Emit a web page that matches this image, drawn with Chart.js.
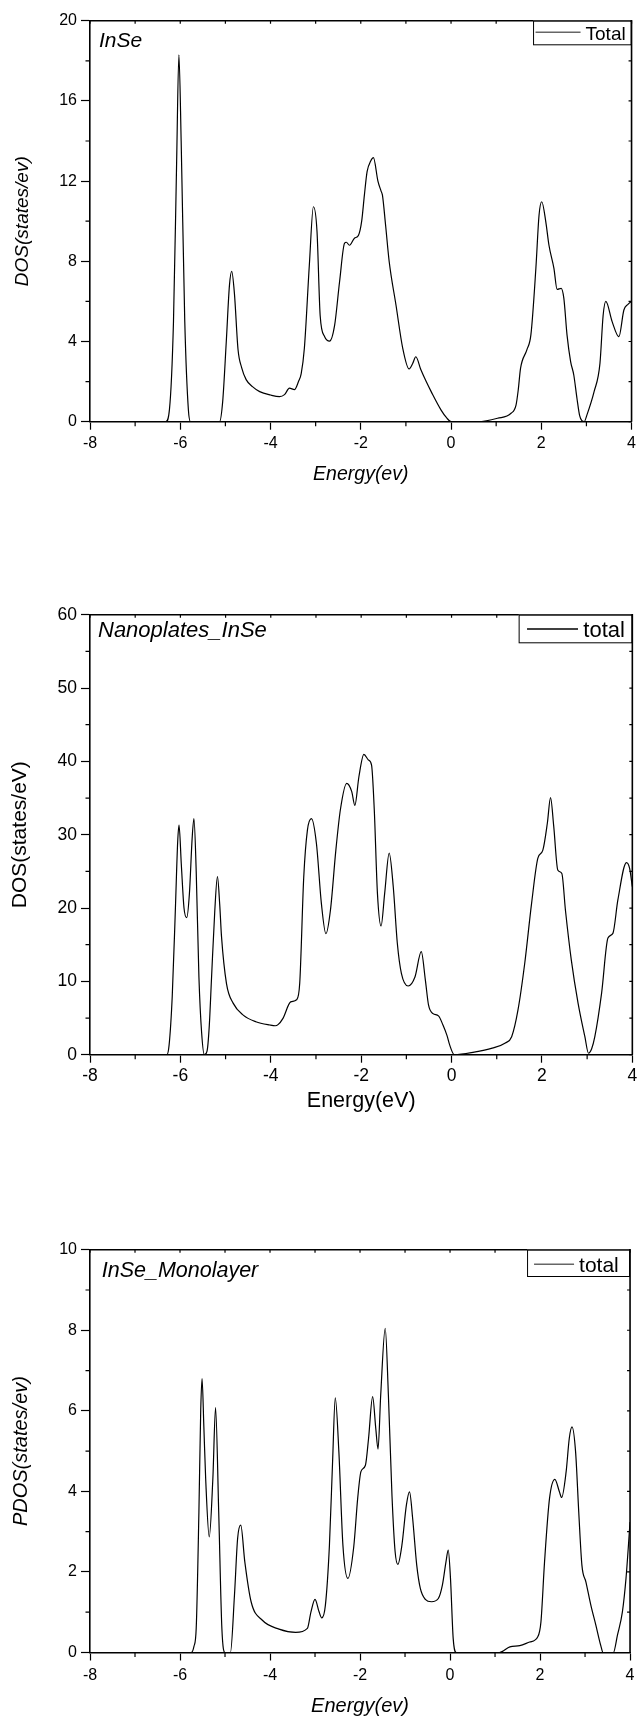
<!DOCTYPE html>
<html>
<head>
<meta charset="utf-8">
<script src="https://cdn.jsdelivr.net/npm/chart.js@4.4.0/dist/chart.umd.min.js"></script>
<style>
  body { margin: 0; background: #fff; }
  canvas { position: absolute; left: 0; }
</style>
</head>
<body>
<canvas id="dos-bulk" width="640" height="500" style="top:0px"></canvas>
<canvas id="dos-nanoplates" width="640" height="560" style="top:560px"></canvas>
<canvas id="dos-monolayer" width="640" height="540" style="top:1180px"></canvas>
<script>
// InSe bulk, total DOS
const energyBulk = [-8, -6.32, -6.24, -6.15, -6.08, -6.03, -5.98, -5.9, -5.82, -5.77,
  -5.13, -5.06, -4.98, -4.91, -4.86, -4.8, -4.72, -4.64, -4.54, -4.4, -4.24, -4.0, -3.8, -3.69,
  -3.58, -3.47, -3.38, -3.32, -3.25, -3.14, -3.05, -2.97, -2.9, -2.8, -2.69, -2.58, -2.47,
  -2.36, -2.32, -2.25, -2.14, -2.05, -1.98, -1.92, -1.86, -1.78, -1.72, -1.62, -1.55, -1.52,
  -1.45, -1.37, -1.22, -1.07, -0.93, -0.85, -0.78, -0.67, -0.55, -0.44, -0.22, -0.1, 0,
  0.59, 1.03, 1.33, 1.44, 1.49, 1.54, 1.68, 1.77, 1.88, 1.95, 2.01, 2.1, 2.17, 2.28, 2.35,
  2.44, 2.5, 2.57, 2.65, 2.72, 2.79, 2.85, 2.9, 2.95, 3.01, 3.17, 3.3, 3.37, 3.43, 3.57,
  3.72, 3.83, 3.92, 4.0]
const dosBulk = [0, 0, 0.6, 5, 13, 18.3, 14, 5, 0.6, 0,
  0, 1.0, 4.0, 6.8, 7.5, 6.4, 3.6, 2.7, 2.1, 1.75, 1.5, 1.33, 1.25, 1.35,
  1.67, 1.6, 2.0, 2.4, 3.66, 7.8, 10.72, 9.5, 5.3, 4.24, 4.02, 4.8, 6.98,
  8.9, 8.95, 8.8, 9.15, 9.3, 10.0, 11.3, 12.47, 13.0, 13.17, 12.0, 11.5, 11.3,
  9.8, 7.98, 5.82, 3.66, 2.63, 2.9, 3.24, 2.6, 2.0, 1.5, 0.58, 0.2, 0,
  0, 0.17, 0.42, 0.83, 1.6, 2.66, 3.58, 4.34, 7.65, 10.3, 10.97, 9.97, 8.8, 7.65, 6.6,
  6.65, 6.15, 4.33, 3.0, 2.33, 1.17, 0.3, 0.05, 0, 0.33, 1.5, 2.91, 5.3, 6.0, 4.99,
  4.24, 5.57, 5.85, 6.0]

// InSe nanoplates, total DOS
const energyNano = [-8, -6.3, -6.25, -6.18, -6.11, -6.06, -6.03, -5.98, -5.92, -5.86,
  -5.8, -5.74, -5.7, -5.65, -5.59, -5.53, -5.47, -5.41, -5.36, -5.31, -5.24, -5.18, -5.13,
  -5.09, -4.98, -4.83, -4.61, -4.33, -4.02, -3.9, -3.84, -3.73, -3.56, -3.43, -3.36, -3.27,
  -3.19, -3.1, -2.99, -2.88, -2.78, -2.68, -2.56, -2.46, -2.32, -2.21, -2.14, -2.05, -1.94,
  -1.84, -1.77, -1.71, -1.64, -1.56, -1.48, -1.38, -1.29, -1.2, -1.11, -0.96, -0.81, -0.67,
  -0.58, -0.51, -0.41, -0.29, -0.19, -0.1, -0.04, 0.06, 0.5, 0.9, 1.19, 1.33, 1.47, 1.62,
  1.77, 1.91, 2.02, 2.12, 2.19, 2.26, 2.35, 2.44, 2.52, 2.65, 2.8, 2.95, 3.03, 3.1, 3.17,
  3.32, 3.46, 3.57, 3.68, 3.87, 3.94, 4.0]
const dosNano = [0, 0, 1.3, 8, 20, 29, 31.3, 26, 20, 18.7,
  22, 29.5, 32.2, 25, 10.6, 3, 0, 0.5, 4, 10.6, 19.5, 24.3, 20.5,
  16.1, 9.7, 7.0, 5.4, 4.5, 4.05, 3.95, 4.1, 4.96, 7.2, 7.5, 9.7, 24.3,
  30.6, 32.2, 28.8, 20.6, 16.5, 19.7, 27.9, 33.4, 37.0, 35.9, 34.0, 37.9, 40.95,
  40.2, 39.5, 33.4, 22.0, 17.55, 22.0, 27.5, 22.9, 15.2, 11.1, 9.37, 10.6, 14.05,
  10.2, 6.8, 5.6, 5.3, 4.05, 2.6, 1.3, 0, 0.35, 0.9, 1.6, 2.45, 6.1, 12.5,
  20.6, 26.8, 27.9, 31.6, 35.05, 31.2, 25.2, 24.7, 19.7, 12.9, 7.0, 2.45, 0.2, 0.8, 2.45,
  8.4, 15.9, 16.55, 21.1, 26.2, 25.4, 22.9]

// InSe monolayer, total PDOS
const energyMono = [-8, -5.75, -5.69, -5.64, -5.58, -5.54, -5.51, -5.47, -5.43, -5.35,
  -5.27, -5.21, -5.14, -5.07, -5.0, -4.88, -4.79, -4.72, -4.65, -4.56, -4.42, -4.17, -3.8,
  -3.43, -3.17, -3.09, -3.0, -2.91, -2.85, -2.77, -2.68, -2.61, -2.55, -2.47, -2.38, -2.27,
  -2.14, -2.05, -1.98, -1.88, -1.81, -1.72, -1.65, -1.6, -1.54, -1.44, -1.37, -1.29, -1.22,
  -1.16, -1.07, -0.97, -0.9, -0.83, -0.74, -0.66, -0.55, -0.41, -0.26, -0.17, -0.09, -0.04,
  0.01, 0.07, 0.14, 1.1, 1.33, 1.55, 1.77, 1.95, 2.02, 2.1, 2.21, 2.33, 2.43, 2.48, 2.58,
  2.65, 2.71, 2.79, 2.86, 2.93, 3.02, 3.13, 3.24, 3.35, 3.4, 3.63, 3.72, 3.83, 3.91, 4.0]
const dosMono = [0, 0, 0.15, 0.6, 3.49, 6.0, 6.8, 5.6, 4.32, 2.87,
  4.32, 6.08, 3.49, 0.6, 0, 0, 1.42, 2.83, 3.16, 2.25, 1.26, 0.8, 0.58,
  0.5, 0.6, 1.01, 1.32, 1.01, 0.86, 1.17, 2.66, 4.73, 6.32, 4.98, 2.66, 1.84,
  2.62, 3.85, 4.49, 4.65, 5.32, 6.35, 5.56, 5.05, 6.4, 8.05, 6.4, 3.9, 2.5,
  2.19, 2.66, 3.66, 3.99, 3.32, 2.17, 1.59, 1.32, 1.26, 1.34, 1.67, 2.25, 2.54,
  1.84, 0.35, 0, 0, 0.14, 0.17, 0.26, 0.39, 0.76, 2.25, 3.82, 4.3, 3.99, 3.85, 4.49,
  5.32, 5.6, 4.98, 3.49, 2.17, 1.75, 1.17, 0.68, 0.17, 0, 0, 0.43, 1.01, 1.84, 3.24]

const FONT = "'Liberation Sans', Arial, sans-serif"

// frame, minor ticks, corner label and legend box
const framePlugin = {
  id: 'frame',
  afterDraw(chart, args, opts) {
    const ctx = chart.ctx
    const area = chart.chartArea
    const x = chart.scales.x
    const y = chart.scales.y

    ctx.save()
    ctx.strokeStyle = '#000'
    ctx.lineWidth = 1.6
    ctx.beginPath()
    ctx.moveTo(area.left, area.top)
    ctx.lineTo(area.right, area.top)
    ctx.lineTo(area.right, area.bottom)
    ctx.stroke()

    ctx.lineWidth = 1.2
    let xs = x.ticks.map(t => t.value)
    let ys = y.ticks.map(t => t.value)
    ctx.beginPath()
    for (let i = 0; i < xs.length; i++) {
      let px = x.getPixelForValue(xs[i])
      ctx.moveTo(px, area.top)
      ctx.lineTo(px, area.top + 3)
      if (i < xs.length - 1) {
        let mx = x.getPixelForValue((xs[i] + xs[i + 1]) / 2)
        ctx.moveTo(mx, area.bottom)
        ctx.lineTo(mx, area.bottom + 4.5)
        ctx.moveTo(mx, area.top)
        ctx.lineTo(mx, area.top + 3)
      }
    }
    for (let i = 0; i < ys.length; i++) {
      let py = y.getPixelForValue(ys[i])
      ctx.moveTo(area.right, py)
      ctx.lineTo(area.right - 3, py)
      if (i < ys.length - 1) {
        let my = y.getPixelForValue((ys[i] + ys[i + 1]) / 2)
        ctx.moveTo(area.left, my)
        ctx.lineTo(area.left - 4.5, my)
        ctx.moveTo(area.right, my)
        ctx.lineTo(area.right - 3, my)
      }
    }
    ctx.stroke()

    // sample name in the top left corner
    ctx.fillStyle = '#000'
    ctx.font = 'italic ' + opts.labelSize + 'px ' + FONT
    ctx.textBaseline = 'alphabetic'
    ctx.textAlign = 'left'
    ctx.fillText(opts.label, area.left + opts.labelX, area.top + opts.labelY)

    // legend
    let lg = opts.legend
    let bx = area.right - 1 - lg.width
    let by = area.top
    ctx.fillStyle = '#fff'
    ctx.fillRect(bx, by, lg.width, lg.height)
    ctx.lineWidth = 1
    ctx.strokeStyle = '#000'
    ctx.strokeRect(bx + 0.5, by + 0.5, lg.width, lg.height)
    ctx.strokeStyle = lg.lineColor
    ctx.lineWidth = 1.4
    ctx.beginPath()
    ctx.moveTo(bx + lg.lineStart, by + lg.lineY)
    ctx.lineTo(bx + lg.lineStart + lg.lineLength, by + lg.lineY)
    ctx.stroke()
    ctx.fillStyle = '#000'
    ctx.font = lg.size + 'px ' + FONT
    ctx.fillText(lg.text, bx + lg.textX, by + lg.textY)
    ctx.restore()
  }
}

function makeChart(id, energy, dos, s) {
  let element = document.getElementById(id).getContext('2d')
  let points = energy.map((e, i) => ({ x: e, y: dos[i] }))

  return new Chart(element, {
    type: 'line',
    data: {
      datasets: [{
        data: points,
        borderColor: '#000',
        borderWidth: 1.2,
        pointRadius: 0,
        fill: false,
        cubicInterpolationMode: 'monotone'
      }]
    },
    options: {
      responsive: false,
      animation: false,
      events: [],
      layout: { padding: { left: 0, right: 7.3, top: s.padTop, bottom: 0 } },
      plugins: {
        legend: { display: false },
        tooltip: { enabled: false },
        frame: s.frame
      },
      scales: {
        x: {
          type: 'linear',
          min: -8,
          max: 4,
          afterFit: scale => { scale.height = s.xHeight },
          border: { display: true, color: '#000', width: 1.6 },
          grid: { drawOnChartArea: false, drawTicks: true, tickLength: 8, tickColor: '#000', tickWidth: 1.2 },
          ticks: { stepSize: 2, autoSkip: false, maxRotation: 0, color: '#000', padding: s.xTickPad, font: { family: FONT, size: s.tickSize } },
          title: { display: true, text: s.xTitle, color: '#000', padding: { top: 0, bottom: s.xTitlePad }, font: { family: FONT, size: s.xTitleSize, style: s.titleStyle } }
        },
        y: {
          min: 0,
          max: s.yMax,
          afterFit: scale => { scale.width = 90 },
          border: { display: true, color: '#000', width: 1.6 },
          grid: { drawOnChartArea: false, drawTicks: true, tickLength: 9, tickColor: '#000', tickWidth: 1.2 },
          ticks: { stepSize: s.yStep, color: '#000', padding: 4, font: { family: FONT, size: s.tickSize } },
          title: { display: true, text: s.yTitle, color: '#000', padding: { top: s.yTitlePad, bottom: 0 }, font: { family: FONT, size: s.yTitleSize, style: s.titleStyle } }
        }
      }
    },
    plugins: [framePlugin]
  })
}

makeChart('dos-bulk', energyBulk, dosBulk, {
  padTop: 20.7, xHeight: 78.3, yMax: 20, yStep: 4,
  tickSize: 16, xTickPad: 4,
  xTitle: 'Energy(ev)', xTitleSize: 19.5, xTitlePad: 14,
  yTitle: 'DOS(states/ev)', yTitleSize: 19, yTitlePad: 11,
  titleStyle: 'italic',
  frame: {
    label: 'InSe', labelSize: 21, labelX: 9, labelY: 26.5,
    legend: { width: 97.5, height: 23.6, lineStart: 2.5, lineLength: 45, lineY: 11.6, lineColor: '#666',
      text: 'Total', size: 19, textX: 52.5, textY: 19.3 }
  }
})

makeChart('dos-nanoplates', energyNano, dosNano, {
  padTop: 54.7, xHeight: 65.3, yMax: 60, yStep: 10,
  tickSize: 17.5, xTickPad: 2.8,
  xTitle: 'Energy(eV)', xTitleSize: 21.5, xTitlePad: 6.4,
  yTitle: 'DOS(states/eV)', yTitleSize: 21, yTitlePad: 7.8,
  titleStyle: 'normal',
  frame: {
    label: 'Nanoplates_InSe', labelSize: 22, labelX: 8, labelY: 22,
    legend: { width: 112.7, height: 27.6, lineStart: 8.4, lineLength: 51, lineY: 14.3, lineColor: '#000',
      text: 'total', size: 22, textX: 64.7, textY: 22.6 }
  }
})

makeChart('dos-monolayer', energyMono, dosMono, {
  padTop: 69.7, xHeight: 67.5, yMax: 10, yStep: 2,
  tickSize: 16, xTickPad: 5.5,
  xTitle: 'Energy(ev)', xTitleSize: 20, xTitlePad: 1.8,
  yTitle: 'PDOS(states/ev)', yTitleSize: 20, yTitlePad: 9.4,
  titleStyle: 'italic',
  frame: {
    label: 'InSe_Monolayer', labelSize: 21.5, labelX: 11.7, labelY: 27.5,
    legend: { width: 102, height: 26.3, lineStart: 7, lineLength: 40, lineY: 14.6, lineColor: '#666',
      text: 'total', size: 21, textX: 52, textY: 22 }
  }
})
</script>
</body>
</html>
